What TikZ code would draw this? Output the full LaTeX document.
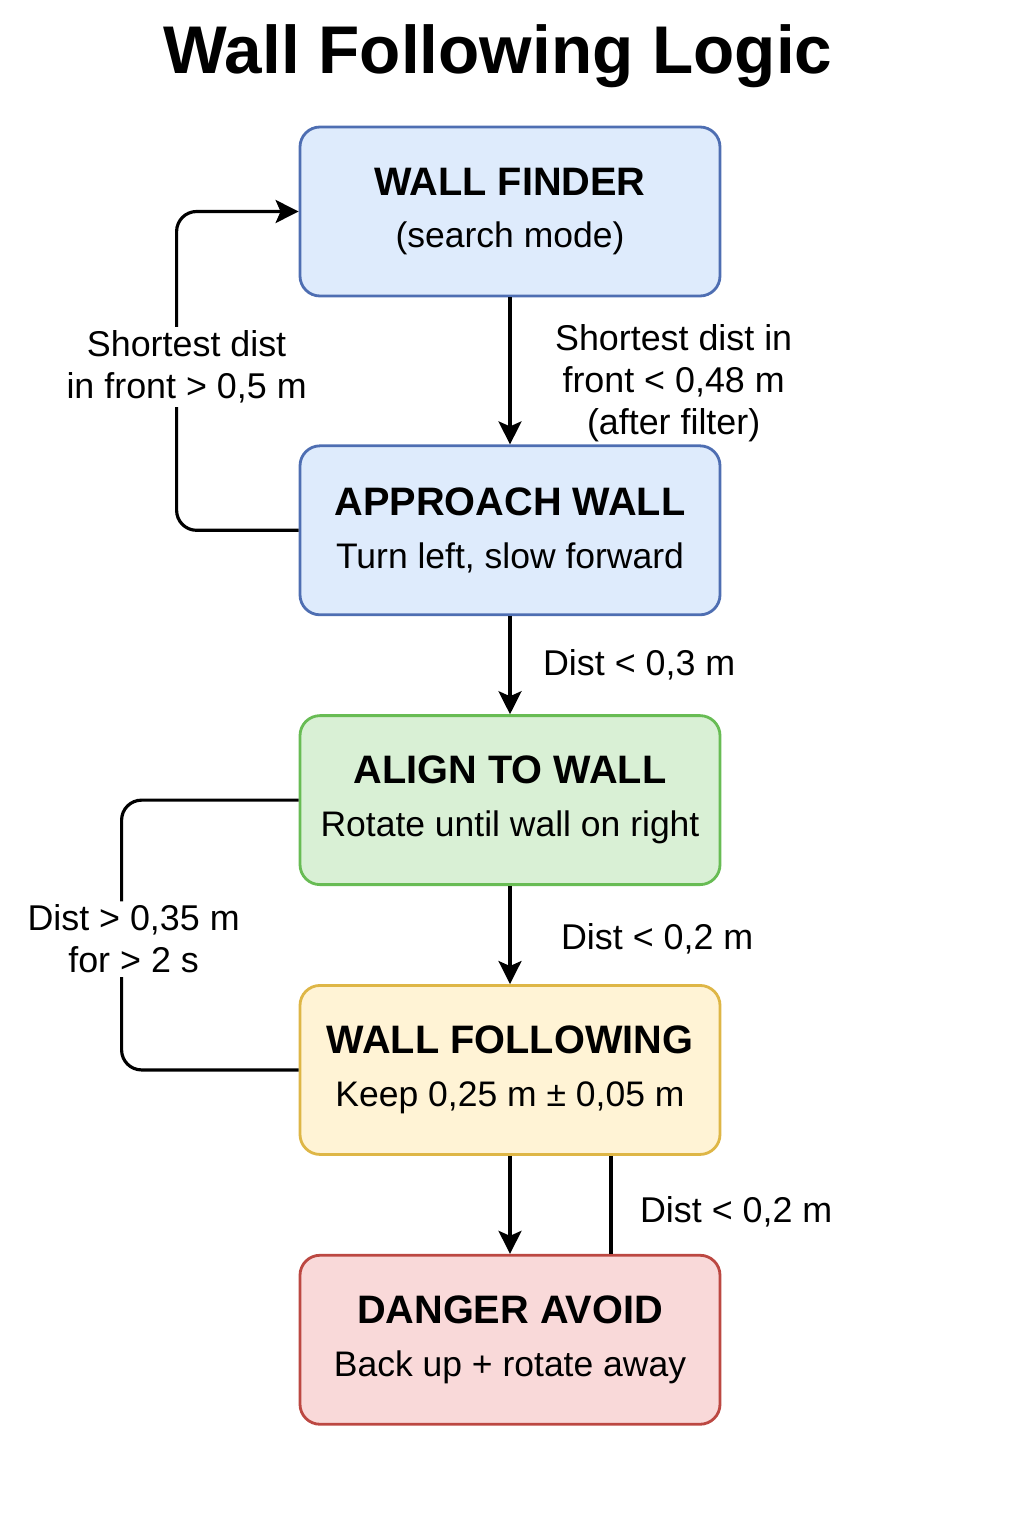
\documentclass[tikz,border=0pt]{standalone}
\usepackage{fontspec}
\setmainfont{Liberation Sans}
\usetikzlibrary{arrows.meta,positioning}
\definecolor{finderfill}{RGB}{222,235,252}
\definecolor{finderline}{RGB}{78,110,178}
\definecolor{alignfill}{RGB}{217,240,213}
\definecolor{alignline}{RGB}{104,188,84}
\definecolor{followfill}{RGB}{255,243,213}
\definecolor{followline}{RGB}{222,182,70}
\definecolor{dangerfill}{RGB}{249,217,217}
\definecolor{dangerline}{RGB}{188,72,66}
\newcommand{\statetitle}[1]{{\fontsize{11.3}{15}\selectfont\bfseries #1}}

\begin{document}
\begin{tikzpicture}[>={Stealth[length=2.3mm, width=2.3mm, inset=0.5mm]}, line width=0.9pt, node distance=0.98cm,
	state/.style={draw, line width=0.8pt, rounded corners=2mm, minimum width=4.2cm, minimum height=1.69cm, align=center, font=\fontsize{10.1}{15}\selectfont},
	lab/.style={font=\fontsize{10.2}{12}\selectfont, align=center, inner sep=1pt}]
	\useasboundingbox (0,0) rectangle (10.24,-15.36);
	\node[font=\fontsize{19.2}{22}\selectfont\bfseries, anchor=base] (title) at (4.98,-0.74) {Wall Following Logic};
	\node[state, draw=finderline, fill=finderfill] (finder) at (5.10,-2.115) {\statetitle{WALL FINDER}\\(search mode)};
	\node[state, draw=finderline, fill=finderfill, below=1.47cm of finder] (approach) {\statetitle{APPROACH WALL}\\Turn left, slow forward};
	\node[state, draw=alignline, fill=alignfill, below=of approach] (alignwall) {\statetitle{ALIGN TO WALL}\\Rotate until wall on right};
	\node[state, draw=followline, fill=followfill, below=of alignwall] (follow) {\statetitle{WALL FOLLOWING}\\Keep 0,25 m ± 0,05 m};
	\node[state, draw=dangerline, fill=dangerfill, below=of follow] (danger) {\statetitle{DANGER AVOID}\\Back up + rotate away};
	\draw[->] (finder) -- node[lab, anchor=west, xshift=4mm, yshift=-1.2mm] {Shortest dist in\\front < 0,48 m\\(after filter)} (approach);
	\draw[->] (approach) -- node[lab, anchor=west, xshift=2.8mm] {Dist < 0,3 m} (alignwall);
	\draw[->] (alignwall) -- node[lab, anchor=west, xshift=4.6mm, yshift=-0.4mm] {Dist < 0,2 m} (follow);
	\draw[->] (follow) -- (danger);
	\draw ([xshift=1.01cm]follow.south) -- node[lab, anchor=west, xshift=2.4mm, yshift=-0.7mm] {Dist < 0,2 m} ([xshift=1.01cm]danger.north);
	\draw[->, rounded corners=2mm] (approach.west) -- ++(-1.22,0) |- node[pos=0.25, lab, fill=white, xshift=1mm, yshift=0.4mm] {Shortest dist\\in front > 0,5 m} (finder.west);
	\draw[rounded corners=2mm] (follow.west) -- ++(-1.77,0) |- node[pos=0.25, lab, fill=white, xshift=1.2mm, yshift=-0.4mm] {Dist > 0,35 m\\for > 2 s} (alignwall.west);
\end{tikzpicture}
\end{document}
